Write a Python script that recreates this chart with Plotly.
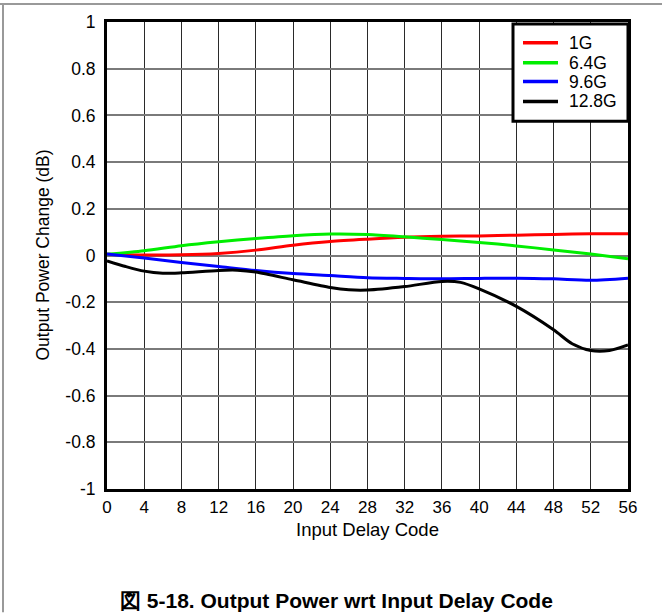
import plotly.graph_objects as go

# ---- data ----
codes = [0, 4, 8, 12, 16, 20, 24, 28, 32, 36, 40, 44, 48, 52, 56]
g1 = [0.005, 0.002, 0.003, 0.009, 0.023, 0.044, 0.060, 0.070, 0.078, 0.082, 0.084, 0.087, 0.090, 0.093, 0.093]
g64 = [0.005, 0.020, 0.042, 0.059, 0.073, 0.085, 0.092, 0.090, 0.080, 0.068, 0.056, 0.041, 0.024, 0.006, -0.014]
g96 = [0.006, -0.011, -0.030, -0.047, -0.064, -0.077, -0.086, -0.095, -0.098, -0.100, -0.098, -0.097, -0.100, -0.106, -0.097]
codes_128 = [0, 2, 4, 6, 8, 12, 14, 16, 20, 24, 26, 28, 32, 36, 38, 40, 44, 48, 50, 52, 54, 56]
g128 = [-0.023, -0.047, -0.067, -0.076, -0.074, -0.064, -0.063, -0.071, -0.104, -0.137, -0.147, -0.148,
        -0.133, -0.111, -0.115, -0.143, -0.218, -0.318, -0.378, -0.407, -0.407, -0.383]

series_names = ["1G", "6.4G", "9.6G", "12.8G"]
series_colors = ["#ff0000", "#00ee00", "#0000ff", "#000000"]

x_ticks = list(range(0, 57, 4))
x_ticklabels = [str(v) for v in x_ticks]
y_ticks = [-1, -0.8, -0.6, -0.4, -0.2, 0, 0.2, 0.4, 0.6, 0.8, 1]
y_ticklabels = ["-1", "-0.8", "-0.6", "-0.4", "-0.2", "0", "0.2", "0.4", "0.6", "0.8", "1"]

x_title = "Input Delay Code"
y_title = "Output Power Change (dB)"
caption = "図 5-18. Output Power wrt Input Delay Code"

FONT = "Arial, Liberation Sans, Helvetica, sans-serif"

fig = go.Figure()
xs = [codes, codes, codes, codes_128]
ys = [g1, g64, g96, g128]
for name, col, x, y in zip(series_names, series_colors, xs, ys):
    fig.add_trace(go.Scatter(x=x, y=y, name=name, mode="lines", showlegend=False,
                             line=dict(color=col, width=3, shape="spline", smoothing=0.8)))

W, H = 662, 613
L, R, T, B = 107, 34, 19, 124
pw, ph = W - L - R, H - T - B


def px(x):
    return (x - L) / pw


def py(y):
    return (H - B - y) / ph


annotations = [
    dict(text=x_title, x=0.5, y=py(530), xref="paper", yref="paper",
         xanchor="center", yanchor="middle", showarrow=False, font=dict(size=18.5)),
    dict(text=y_title, x=px(42), y=0.5, xref="paper", yref="paper", textangle=-90,
         xanchor="center", yanchor="middle", showarrow=False, font=dict(size=17.5)),
    dict(text="<b>" + caption + "</b>", x=px(336), y=py(601), xref="paper", yref="paper",
         xanchor="center", yanchor="middle", showarrow=False, font=dict(size=21)),
]
shapes = [
    dict(type="line", xref="paper", yref="paper", x0=px(0), x1=px(662), y0=py(1), y1=py(1),
         line=dict(color="#999999", width=2)),
    dict(type="line", xref="paper", yref="paper", x0=px(3), x1=px(3), y0=py(1), y1=py(613),
         line=dict(color="#999999", width=2)),
    # legend box
    dict(type="rect", xref="paper", yref="paper", x0=px(513), x1=px(628), y0=py(21), y1=py(119),
         line=dict(color="black", width=3), fillcolor="white", layer="above"),
]
legend_y = [40, 60, 79, 99]
for name, col, ly in zip(series_names, series_colors, legend_y):
    shapes.append(dict(type="line", xref="paper", yref="paper", x0=px(523), x1=px(558),
                       y0=py(ly), y1=py(ly), line=dict(color=col, width=3.5), layer="above"))
    annotations.append(dict(text=name, x=px(567), y=py(ly), xref="paper", yref="paper",
                            xanchor="left", yanchor="middle", showarrow=False,
                            font=dict(size=17.5)))

fig.update_layout(
    width=W, height=H,
    margin=dict(l=L, r=R, t=T, b=B, pad=0),
    paper_bgcolor="white", plot_bgcolor="white",
    font=dict(family=FONT, size=17, color="black"),
    showlegend=False,
    xaxis=dict(range=[0, 56], tickvals=x_ticks, ticktext=x_ticklabels,
               showgrid=True, gridcolor="#2a2a2a", gridwidth=1,
               zeroline=False, showline=True, linecolor="black", linewidth=3, mirror=True,
               ticks="", tickfont=dict(size=17), ticklabelstandoff=1, fixedrange=True),
    yaxis=dict(range=[-1, 1], tickvals=y_ticks, ticktext=y_ticklabels,
               showgrid=True, gridcolor="#7a7a7a", gridwidth=1.5,
               zeroline=False, showline=True, linecolor="black", linewidth=3, mirror=True,
               ticks="", tickfont=dict(size=17.5), ticklabelstandoff=5, fixedrange=True),
    annotations=annotations,
    shapes=shapes,
)

fig.write_html("out.html", config={"displayModeBar": False},
               post_script="document.body.style.margin='0';document.body.style.overflow='hidden';")
